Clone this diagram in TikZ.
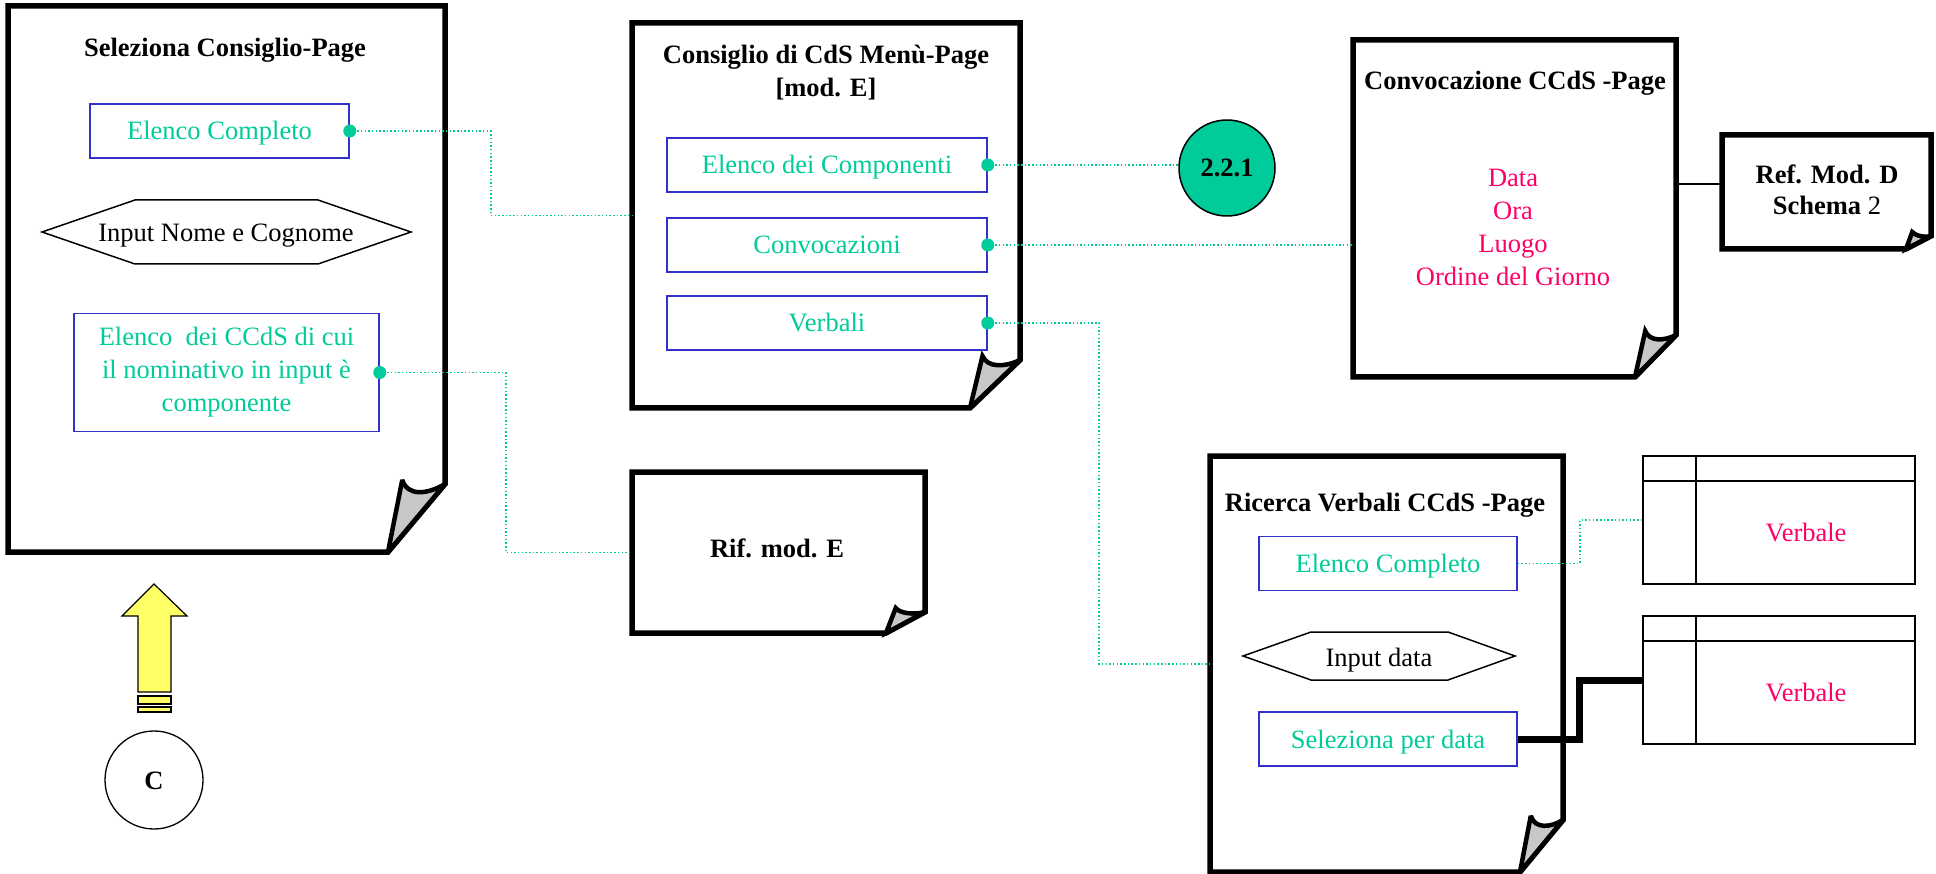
\documentclass[tikz,border=0pt]{standalone}
\usepackage{fontspec}
\setmainfont{Liberation Serif}
\usetikzlibrary{calc}
\definecolor{verde}{RGB}{0,204,153}
\definecolor{bluvoce}{RGB}{51,51,204}
\definecolor{rosa}{RGB}{255,0,102}
\definecolor{grigiopiega}{RGB}{200,200,200}
\definecolor{giallo}{RGB}{255,255,102}
\newcommand\testo{\fontsize{26.5}{33}\selectfont}
\tikzset{
  pag/.style={anchor=north west, inner sep=0pt, outer sep=0pt},
  pagina/.style={draw=black, fill=white, line width=5.5pt, miter limit=4},
  piega/.style={draw=black, fill=grigiopiega, line width=4.5pt, miter limit=3},
  riga/.style={text height=18pt, text depth=0pt},
  titolo/.style={font=\testo\bfseries, align=center},
  vocebox/.style={draw=bluvoce, line width=1.5pt, text=verde, minimum height=54, inner sep=0pt, align=center},
  voce/.style={vocebox, riga},
  esagono/.style={draw=black, line width=1.5pt},
  filo/.style={verde, line width=1.5pt, dash pattern=on 1.5pt off 2.2pt},
  spesso/.style={black, line width=7pt},
  tabella/.style={draw=black, line width=1.8pt, minimum width=272, minimum height=128, inner sep=0pt}
}
\newcommand\disegnafoglio[3]{%
  \draw[pagina] (#1.north west) -- (#1.north east) -- ($(#1.south east)+(0,-#3)$)
    -- ($(#1.south east)+(-#2,0)$) -- (#1.south west) -- cycle;
  \draw[piega] ($(#1.south east)+(-#2,0)$) -- ($(#1.south east)+(-.75*#2,-#3-4)$)
    .. controls +(.1*#2,.25*#3) and +(-.3*#2,.15*#3) .. ($(#1.south east)+(0,-#3)$) -- cycle;
}

\begin{document}
\begin{tikzpicture}[x=1pt, y=-1pt, font=\testo]
\useasboundingbox (0,0) rectangle (1936,874);

\node[pag, minimum width=437, minimum height=546] (p1) at (8,6) {};
\node[pag, minimum width=388, minimum height=385] (p2) at (632,23) {};
\node[pag, minimum width=293, minimum height=161] (rifE) at (632,472) {};
\node[pag, minimum width=323, minimum height=337] (p3) at (1353,40) {};
\node[pag, minimum width=209, minimum height=114] (refD) at (1722,135) {};
\node[pag, minimum width=353, minimum height=416] (p4) at (1210,456) {};
\foreach \p/\dx/\dy in {p1/57/68, p2/50/48, rifE/39/21, p3/41/42, refD/25/13, p4/43/52}
  \disegnafoglio{\p}{\dx}{\dy};

\node[titolo, riga] (t1) at (225,48) {Seleziona Consiglio-Page};
\node[titolo] (t2) at (826,73) {Consiglio di CdS Menù-Page\\{[mod. E]}};
\node[titolo, riga] (t3) at (1515,81) {Convocazione CCdS -Page};
\node[titolo, riga] (t4) at (1385,502) {Ricerca Verbali CCdS -Page};
\node[titolo, riga] (trif) at (777,548) {Rif. mod. E};
\node[align=center, font=\fontsize{26.5}{31}\selectfont] (tref) at (1827,190) {\textbf{Ref. Mod. D}\\\textbf{Schema} 2};
\node[text=rosa, align=center] (dati) at (1513,227) {Data\\Ora\\Luogo\\Ordine del Giorno};

\node[voce, minimum width=259] (ec1) at (219.5,131) {Elenco Completo};
\draw[esagono] (42,232) -- (135,200) -- (318,200) -- (411,232) -- (318,264) -- (135,264) -- cycle;
\node[riga] (inNome) at (226,233) {Input Nome e Cognome};
\node[vocebox, minimum width=305, minimum height=118] (ccds) at (226.5,372.5)
  {Elenco\ \ dei CCdS di cui\\il nominativo in input è\\componente};

\foreach \n/\y/\t in {b1/165/Elenco dei Componenti, b2/245/Convocazioni, b3/323/Verbali}
  \node[voce, minimum width=320] (\n) at (827,\y) {\t};

\node[voce, minimum width=258] (ec4) at (1388,563.5) {Elenco Completo};
\draw[esagono] (1243,656) -- (1311,632) -- (1448,632) -- (1515,656) -- (1448,680) -- (1311,680) -- cycle;
\node[riga] (inData) at (1379,657) {Input data};
\node[voce, minimum width=258] (selData) at (1388,739) {Seleziona per data};

\foreach \n/\y in {tab1/520, tab2/680} {
  \node[tabella] (\n) at (1779,\y) {};
  \draw[line width=1.8pt] ($(\n.north west)+(0,26)$) -- ($(\n.north east)+(0,26)$);
  \draw[line width=1.8pt] ($(\n.north west)+(54,0)$) -- ($(\n.south west)+(54,0)$);
  \node[riga, text=rosa] at ($(\n.center)+(27,12)$) {Verbale};
}

\node[circle, draw, line width=1.5pt, fill=verde, minimum size=96, riga, font=\testo\bfseries] (c221) at (1227,168) {2.2.1};

\draw[filo] (ec1.east) -| ($(ec1.east)!.5!(p2.west)$) |- (p2.west);
\draw[filo] (ccds.east) -| ($(ccds.east)!.5!(rifE.west)$) |- (rifE.west);
\draw[filo] (b1.east) -- (b1.east -| c221.west);
\draw[filo] (b2.east) -- (b2.east -| p3.west);
\draw[filo] (b3.east) -| ($(b3.east)!.5!(p4.west)$) |- (p4.west);
\draw[filo] (ec4.east) -| ($(ec4.east)!.5!(tab1.west)$) |- (tab1.west);
\draw[spesso] (selData.east) -| ($(selData.east)!.5!(tab2.west)$) |- (tab2.west);
\draw[line width=1.5pt] (p3.east |- 0,184) -- (refD.west |- 0,184);
\foreach \n in {ec1, ccds, b1, b2, b3}
  \fill[verde] (\n.east) circle (6.5pt);

\draw[fill=giallo, line width=1.2pt] (154,584) -- (187,616) -- (171,616) -- (171,692) -- (138,692) -- (138,616) -- (122,616) -- cycle;
\draw[fill=giallo, line width=1.2pt] (138,696) rectangle (171,704) (138,707) rectangle (171,712);
\node[circle, draw, line width=1.3pt, minimum size=98, riga, font=\testo\bfseries] (nodoC) at (154,780) {C};
\end{tikzpicture}
\end{document}
